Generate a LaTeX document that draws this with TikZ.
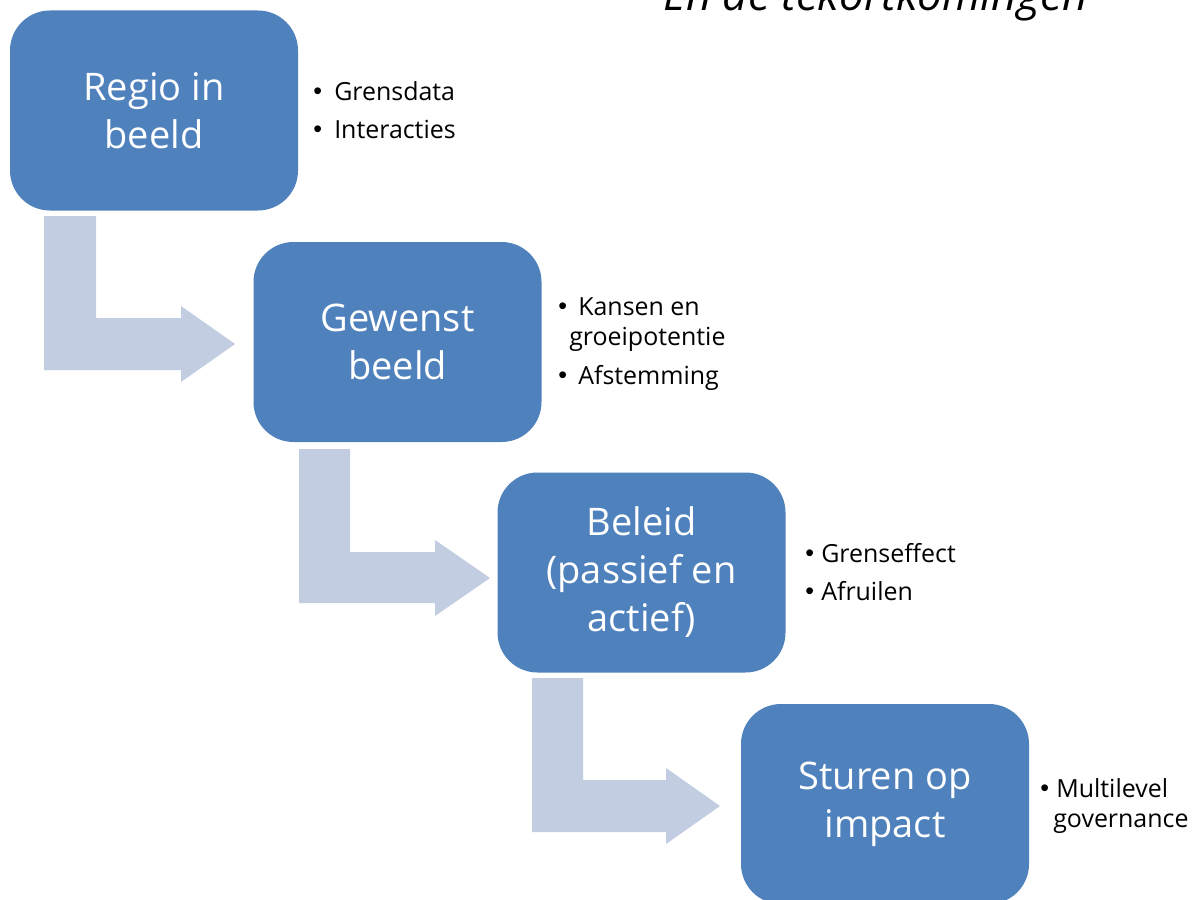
\documentclass[tikz,border=0pt]{standalone}
\usepackage{fontspec}
\setmainfont[Ligatures={NoCommon}]{Open Sans}
\newfontfamily\bulfont{Liberation Sans}
\newcommand{\bdot}[1]{\makebox[#1][l]{\bulfont\raisebox{0.5pt}{•}}}
\definecolor{boxblue}{RGB}{79,129,189}
\definecolor{arrowblue}{RGB}{194,205,225}
\begin{document}
\begin{tikzpicture}[x=0.75pt,y=-0.75pt,
  stepbox/.style={fill=boxblue, rounded corners=30pt, minimum width=216pt, minimum height=150pt,
    text=white, font=\fontsize{28.5}{36}\selectfont, align=center, inner sep=0pt},
  flow/.style={fill=arrowblue, draw=none},
  bul/.style={anchor=base west, inner sep=0pt, font=\fontsize{18.7}{22}\selectfont},
  ttl/.style={anchor=base west, inner sep=0pt, font=\fontsize{33}{38}\selectfont\itshape}]
\useasboundingbox (0,0) rectangle (1194,899);
\clip (0,0) rectangle (1194,899);
\fill[white] (0,0) rectangle (1194,899);

% title (cut off at top)
\node[ttl] (title) at (663,11) {En de tekortkomingen};

% bent arrows
\fill[flow] (44,216) -- (96,216) -- (96,318) -- (181,318) -- (181,306) -- (235,344)
  -- (181,382) -- (181,370) -- (44,370) -- cycle;
\fill[flow] (299,449) -- (350,449) -- (350,552) -- (435,552) -- (435,540) -- (490,578)
  -- (435,616) -- (435,603) -- (299,603) -- cycle;
\fill[flow] (532,678) -- (583,678) -- (583,780) -- (666,780) -- (666,768) -- (720,806)
  -- (666,844) -- (666,832) -- (532,832) -- cycle;

% boxes
\node[stepbox] (b1) at (154,110.5) {Regio in\\beeld};
\node[stepbox] (b2) at (397.5,342) {Gewenst\\beeld};
\node[stepbox] (b3) at (641.5,572.5) {Beleid\\(passief en\\actief)};
\node[stepbox] (b4) at (885,804) {Sturen op\\impact};

% bullet lists
\node[bul] (l1a) at (313,100) {\bdot{15.75pt}Grensdata};
\node[bul] (l1b) at (313,138) {\bdot{15.75pt}Interacties};

\node[bul] (l2a) at (558,315) {\bdot{15pt}Kansen en};
\node[bul] (l2b) at (569,345) {groeipotentie};
\node[bul] (l2c) at (558,384) {\bdot{15pt}Afstemming};

\node[bul] (l3a) at (805,562) {\bdot{12pt}Grenseffect};
\node[bul] (l3b) at (805,600) {\bdot{12pt}Afruilen};

\node[bul] (l4a) at (1040,797) {\bdot{12pt}Multilevel};
\node[bul] (l4b) at (1053,827) {governance};
\end{tikzpicture}
\end{document}
